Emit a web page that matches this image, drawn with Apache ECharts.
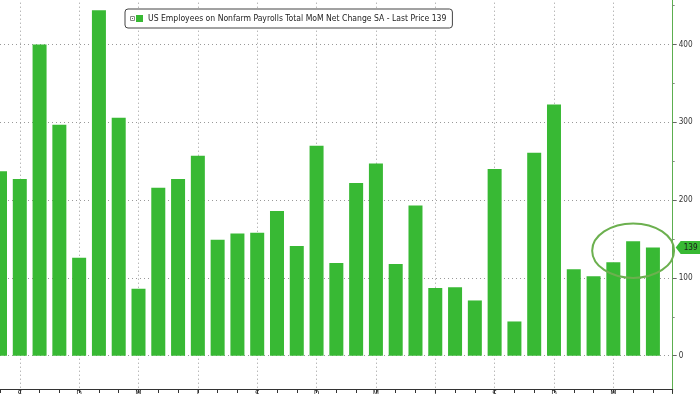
<!DOCTYPE html>
<html><head><meta charset="utf-8">
<script src="https://cdn.jsdelivr.net/npm/echarts@6/dist/echarts.min.js"></script>
<style>html,body{margin:0;padding:0;background:#fff}#c{width:700px;height:394px}</style>
</head><body><div id="c"></div>
<script>
// ---- data ----
const categories = ['Aug 2022','Sep 2022','Oct 2022','Nov 2022','Dec 2022','Jan 2023','Feb 2023','Mar 2023','Apr 2023','May 2023','Jun 2023','Jul 2023','Aug 2023','Sep 2023','Oct 2023','Nov 2023','Dec 2023','Jan 2024','Feb 2024','Mar 2024','Apr 2024','May 2024','Jun 2024','Jul 2024','Aug 2024','Sep 2024','Oct 2024','Nov 2024','Dec 2024','Jan 2025','Feb 2025','Mar 2025','Apr 2025','May 2025','Jun 2025'];
const xTickLabels = ['','S','','','D','','','M','','','J','','','S','','','D','','','M','','','J','','','S','','','D','','','M','','','J'];
const payrollChange = [237,227,400,297,126,444,306,86,216,227,257,149,157,158,186,141,270,119,222,247,118,193,87,88,71,240,44,261,323,111,102,120,147,139,null];
const yTickValues = [0,100,200,300,400];
const seriesTitle = 'US Employees on Nonfarm Payrolls Total MoM Net Change SA';
const lastPrice = 139;
const circledFrom = 31, circledTo = 33, circledCenterValue = 135, circledHalfSpan = 35;

// pick the narrowest available installed font
function fontAvailable(name) {
  const ctx = document.createElement('canvas').getContext('2d');
  const s = 'abcdefghijklmnopqrstuvwxyzABCDEFGHIJKLMNOPQRSTUVWXYZ0123456789';
  for (const base of ['monospace', 'serif']) {
    ctx.font = '20px ' + base; const w0 = ctx.measureText(s).width;
    ctx.font = "20px '" + name + "', " + base; const w1 = ctx.measureText(s).width;
    if (Math.abs(w1 - w0) > 0.5) return true;
  }
  return false;
}
const fontName = ['Liberation Sans Narrow', 'DejaVu Sans Condensed', 'Liberation Sans'].find(fontAvailable) || 'sans-serif';
const FONT = "'" + fontName + "', sans-serif";
const seriesName = seriesTitle + ' - Last Price ' + lastPrice;
function sizeForWidth(text, target) {
  const ctx = document.createElement('canvas').getContext('2d');
  ctx.font = '20px ' + FONT;
  return 20 * target / ctx.measureText(text).width;
}
const legendFontSize = Math.min(11, sizeForWidth(seriesName, 299));
const axisFontSize = Math.min(10.5, sizeForWidth('400', 14));

const GREEN = '#38b934';
const chart = echarts.init(document.getElementById('c'), null, {renderer: 'canvas'});

chart.setOption({
  animation: false,
  backgroundColor: '#ffffff',
  textStyle: {fontFamily: FONT},
  grid: {left: 0, right: 27.3, top: -33.3, bottom: -39.5, containLabel: false, outerBoundsMode: 'none'},
  legend: {
    left: 125, top: 9,
    padding: [4, 6, 4, 11],
    backgroundColor: '#fff',
    borderColor: '#444', borderWidth: 1, borderRadius: 3,
    icon: 'rect', itemWidth: 7, itemHeight: 7,
    selectedMode: false,
    textStyle: {fontFamily: FONT, fontSize: legendFontSize, lineHeight: 11, color: '#222'},
    data: [seriesName]
  },
  xAxis: {
    type: 'category',
    data: categories,
    boundaryGap: false,
    offset: -44.5,
    axisLine: {onZero: false, lineStyle: {color: '#333', width: 1}},
    axisTick: {show: true, interval: 0, length: 4, lineStyle: {color: '#333'}},
    axisLabel: {
      interval: 0, margin: 2, fontSize: axisFontSize, color: '#333', fontFamily: FONT,
      formatter: (v, i) => xTickLabels[i]
    },
    splitLine: {
      show: true,
      interval: (i) => xTickLabels[i] !== '',
      lineStyle: {color: '#999', width: 1, type: [1, 3]}
    }
  },
  yAxis: {
    type: 'value',
    position: 'right',
    min: -100, max: 500, interval: 100,
    axisLine: {show: true, lineStyle: {color: '#5cae4f', width: 1}},
    axisTick: {show: true, length: 4, lineStyle: {color: '#666'}},
    minorTick: {show: true, splitNumber: 2, length: 2, lineStyle: {color: '#888'}},
    axisLabel: {
      margin: 6, fontSize: axisFontSize, color: '#333', fontFamily: FONT,
      formatter: (v) => yTickValues.indexOf(v) >= 0 ? String(v) : ''
    },
    splitLine: {show: true, lineStyle: {color: '#999', width: 1, type: [1, 3]}}
  },
  series: [{
    name: seriesName,
    type: 'bar',
    data: payrollChange,
    barWidth: 14,
    itemStyle: {color: GREEN},
    markPoint: {
      symbol: 'path://M0,6 L5,0 L26,0 L26,12 L5,12 Z',
      symbolSize: [26, 13],
      symbolOffset: [16, 0],
      itemStyle: {color: GREEN},
      label: {show: true, position: 'inside', offset: [2, 0], color: '#1a1a1a', fontSize: axisFontSize, fontFamily: FONT, formatter: String(lastPrice)},
      data: [{coord: [categories[categories.length - 1], lastPrice], value: lastPrice}]
    }
  }]
});

// ellipse annotation around the last three bars
const pA = chart.convertToPixel({gridIndex: 0}, [categories[circledFrom], circledCenterValue]);
const pB = chart.convertToPixel({gridIndex: 0}, [categories[circledTo], circledCenterValue + circledHalfSpan]);
const step = (pB[0] - pA[0]) / (circledTo - circledFrom);
const cx = (pA[0] + pB[0]) / 2;
const cy = pA[1];
chart.setOption({
  graphic: [
    {type: 'ellipse', shape: {cx: cx, cy: cy, rx: step * 2.07, ry: Math.abs(pB[1] - pA[1])}, style: {fill: 'none', stroke: '#6cb04f', lineWidth: 2}, z: 100},
    {type: 'rect', shape: {x: 130.5, y: 16.5, width: 4, height: 4}, style: {fill: '#fff', stroke: '#888', lineWidth: 1}, z: 100},
    {type: 'rect', shape: {x: 132, y: 18, width: 1, height: 1}, style: {fill: '#666'}, z: 100}
  ]
});
</script>
</body></html>
